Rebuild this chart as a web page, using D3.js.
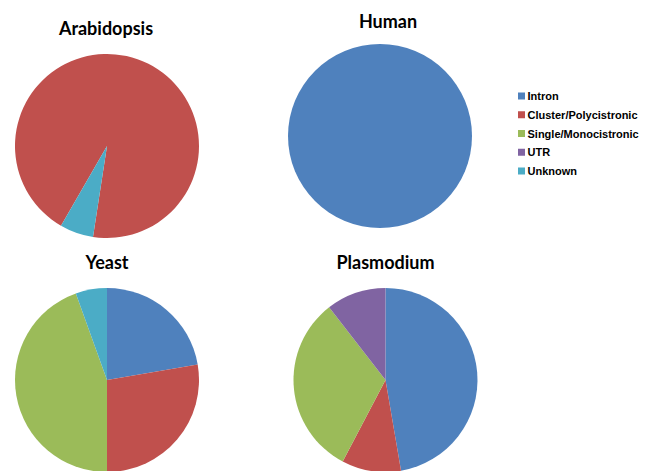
<!DOCTYPE html>
<html>
<head>
<meta charset="utf-8">
<script src="https://cdn.jsdelivr.net/npm/d3@7"></script>
<style>
  html, body { margin: 0; padding: 0; background: #fff; }
  svg { display: block; }
</style>
</head>
<body>
<svg id="chart" width="647" height="471"></svg>
<script>
// ---- data ----
const categories = ["Intron", "Cluster/Polycistronic", "Single/Monocistronic", "UTR", "Unknown"];
const organisms = ["Arabidopsis", "Human", "Yeast", "Plasmodium"];
const arabidopsisValues = [0, 94.1, 0, 0, 5.9];
const humanValues = [100, 0, 0, 0, 0];
const yeastValues = [22.3, 27.7, 44.5, 0, 5.5];
const plasmodiumValues = [47.3, 10.4, 31.8, 10.5, 0];
const colors = ["#4F81BD", "#C0504D", "#9BBB59", "#8064A2", "#4BACC6"];

// ---- layout ----
const svg = d3.select("#chart");
const color = d3.scaleOrdinal().domain(categories).range(colors);
const radius = 92;
const panels = [
  { name: organisms[0], values: arabidopsisValues, cx: 107, cy: 146, tx: 106, ty: 34.5, start: 210 },
  { name: organisms[1], values: humanValues, cx: 380, cy: 136, tx: 388, ty: 28, start: 0 },
  { name: organisms[2], values: yeastValues, cx: 107, cy: 380, tx: 107, ty: 269, start: 0 },
  { name: organisms[3], values: plasmodiumValues, cx: 385.5, cy: 380, tx: 385.5, ty: 269, start: 0 }
];
const arc = d3.arc().innerRadius(0).outerRadius(radius);

panels.forEach(p => {
  const s = p.start * Math.PI / 180;
  const pie = d3.pie().sort(null).value(d => d.v)
    .startAngle(s).endAngle(s + 2 * Math.PI);
  const data = categories.map((c, i) => ({ c, v: p.values[i] })).filter(d => d.v > 0);
  const g = svg.append("g").attr("transform", `translate(${p.cx},${p.cy})`);
  g.selectAll("path").data(pie(data)).join("path")
    .attr("d", arc)
    .attr("fill", d => color(d.data.c));
  svg.append("text")
    .attr("x", p.tx).attr("y", p.ty)
    .attr("text-anchor", "middle")
    .attr("font-family", "Lato, 'Open Sans', sans-serif")
    .attr("font-weight", "bold")
    .attr("font-size", "18px")
    .attr("fill", "#000")
    .text(p.name);
});

// ---- legend ----
const legend = svg.append("g").attr("transform", "translate(518,96)");
categories.forEach((c, i) => {
  const row = legend.append("g").attr("transform", `translate(0,${i * 18.75})`);
  row.append("rect").attr("x", 0).attr("y", -3.5).attr("width", 7).attr("height", 7)
    .attr("fill", color(c));
  row.append("text").attr("x", 9.5).attr("y", 4)
    .attr("font-family", "'Liberation Sans', Arial, sans-serif")
    .attr("font-weight", "bold")
    .attr("font-size", "11px")
    .attr("fill", "#000")
    .text(c);
});
</script>
</body>
</html>
